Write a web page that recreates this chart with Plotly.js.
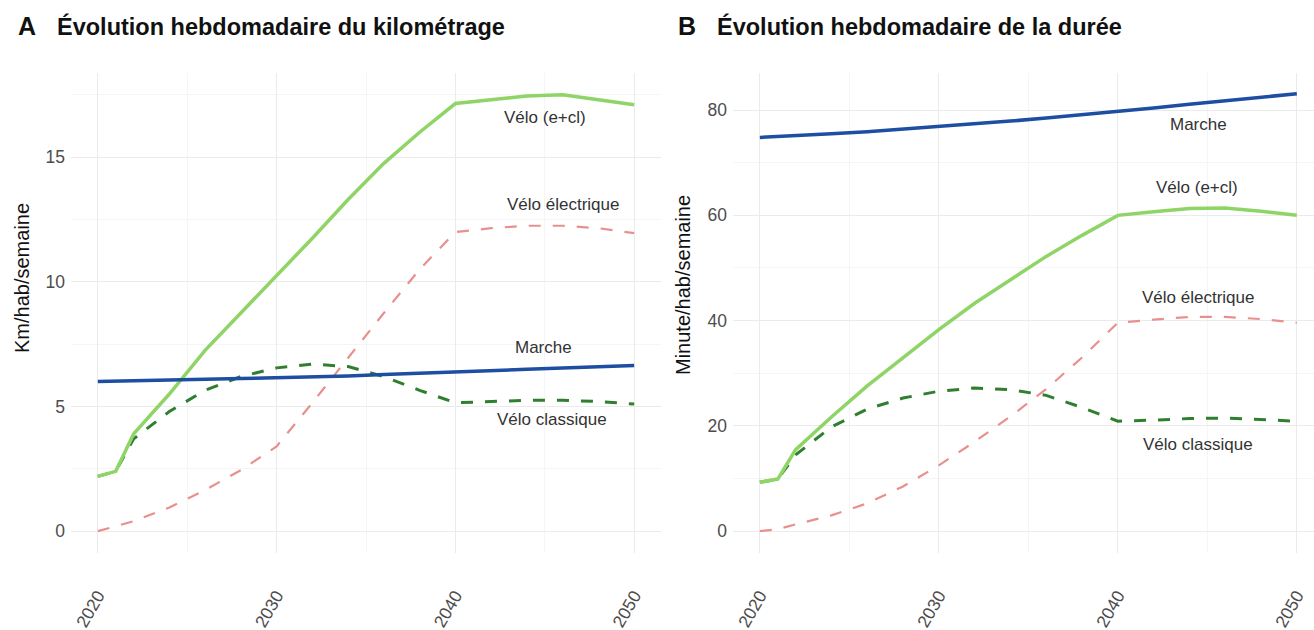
<!DOCTYPE html>
<html>
<head>
<meta charset="utf-8">
<script src="https://cdn.plot.ly/plotly-3.0.1.min.js"></script>
<style>
  html, body { margin: 0; padding: 0; background: #ffffff; }
  #chart { width: 1314px; height: 630px; }
</style>
</head>
<body>
<div id="chart"></div>
<script>
// ---- Data ----
const years = [2020, 2021, 2022, 2024, 2026, 2028, 2030, 2032, 2034, 2036, 2038, 2040, 2042, 2044, 2046, 2048, 2050];

// Panel A : km / hab / semaine
const kmMarche     = [6.00, 6.01, 6.03, 6.06, 6.09, 6.12, 6.15, 6.18, 6.22, 6.28, 6.34, 6.40, 6.44, 6.49, 6.54, 6.59, 6.64];
const kmVeloTotal  = [2.2, 2.4, 3.9, 5.5, 7.25, 8.75, 10.2, 11.75, 13.3, 14.75, 16.0, 17.15, 17.3, 17.45, 17.5, 17.3, 17.1];
const kmVeloElec   = [0.0, 0.2, 0.4, 0.95, 1.65, 2.45, 3.4, 5.15, 6.95, 8.75, 10.5, 12.0, 12.15, 12.25, 12.25, 12.15, 11.95];
const kmVeloClass  = [2.2, 2.4, 3.7, 4.8, 5.65, 6.2, 6.55, 6.7, 6.6, 6.2, 5.65, 5.15, 5.2, 5.25, 5.25, 5.2, 5.1];

// Panel B : minutes / hab / semaine
const minMarche    = [74.8, 74.95, 75.1, 75.5, 75.9, 76.4, 76.9, 77.3, 77.9, 78.5, 79.1, 79.7, 80.4, 81.1, 81.8, 82.5, 83.1];
const minVeloTotal = [9.3, 9.9, 15.5, 21.7, 27.6, 33.0, 38.3, 43.3, 47.8, 52.2, 56.2, 60.0, 60.7, 61.3, 61.4, 60.8, 60.0];
const minVeloElec  = [0.0, 0.4, 1.3, 3.0, 5.3, 8.5, 12.5, 17.0, 21.8, 27.0, 33.0, 39.6, 40.2, 40.7, 40.7, 40.3, 39.6];
const minVeloClass = [9.3, 9.9, 14.5, 19.8, 23.2, 25.3, 26.6, 27.2, 26.9, 25.8, 23.5, 20.9, 21.1, 21.4, 21.5, 21.2, 20.9];

// Series names and direct labels (same order as seriesNames)
const seriesNames = ["Marche", "Vélo (e+cl)", "Vélo électrique", "Vélo classique"];
const labelsA = { x: [2044.9, 2045, 2046, 2045.4], y: [7.36, 16.6, 13.1, 4.48] };
const labelsB = { x: [2044.5, 2044.4, 2044.5, 2044.5], y: [77.3, 65.2, 44.4, 16.5] };

const panelTitles = ["Évolution hebdomadaire du kilométrage", "Évolution hebdomadaire de la durée"];
const panelLetters = ["A", "B"];
const yTitles = ["Km/hab/semaine", "Minute/hab/semaine"];

// ---- Styles ----
const FONT = "Liberation Sans, Arial, Helvetica, sans-serif";
const styles = [
  { color: "#1d4ea2", width: 3.5, dash: "solid" },
  { color: "#8fd466", width: 3.5, dash: "solid" },
  { color: "#e8908e", width: 2.2, dash: "12px,12px" },
  { color: "#2f7f2f", width: 3.0, dash: "12px,12px" }
];

function mk(yvals, i, xa, ya) {
  return {
    x: years, y: yvals, type: "scatter", mode: "lines",
    name: seriesNames[i], xaxis: xa, yaxis: ya,
    line: { color: styles[i].color, width: styles[i].width, dash: styles[i].dash },
    hoverinfo: "x+y+name"
  };
}

const traces = [
  mk(kmVeloElec, 2, "x", "y"),
  mk(kmVeloClass, 3, "x", "y"),
  mk(kmVeloTotal, 1, "x", "y"),
  mk(kmMarche, 0, "x", "y"),
  mk(minVeloElec, 2, "x2", "y2"),
  mk(minVeloClass, 3, "x2", "y2"),
  mk(minVeloTotal, 1, "x2", "y2"),
  mk(minMarche, 0, "x2", "y2")
];

const W = 1314, H = 630;
const plotTop = 73, plotBottom = 553;
const yDom = [(H - plotBottom) / H, (H - plotTop) / H];

const tickFont = { family: FONT, size: 17.5, color: "#4d4d4d" };
const gridMajor = "#ebebeb", gridMinor = "#f5f5f5";

function xAxis(dom, range, anchor) {
  return {
    domain: dom, range: range, anchor: anchor,
    tick0: 2020, dtick: 10, tickangle: -60,
    showgrid: true, gridcolor: gridMajor, gridwidth: 1,
    minor: { dtick: 5, tick0: 2020, showgrid: true, gridcolor: gridMinor, gridwidth: 1 },
    zeroline: false, showline: false, ticks: "",
    tickfont: tickFont, ticklabelstandoff: 28, fixedrange: true
  };
}
function yAxis(dom, range, dtick, anchor) {
  return {
    domain: dom, range: range, anchor: anchor,
    tick0: 0, dtick: dtick,
    showgrid: true, gridcolor: gridMajor, gridwidth: 1,
    minor: { dtick: dtick / 2, tick0: 0, showgrid: true, gridcolor: gridMinor, gridwidth: 1 },
    zeroline: false, showline: false, ticks: "",
    tickfont: tickFont, ticklabelstandoff: 5, fixedrange: true
  };
}

const annotations = [];
// direct labels
seriesNames.forEach((n, i) => {
  annotations.push({ x: labelsA.x[i], y: labelsA.y[i], xref: "x", yref: "y", text: n, showarrow: false,
    font: { family: FONT, size: 17, color: "#333333" }, xanchor: "center", yanchor: "middle" });
  annotations.push({ x: labelsB.x[i], y: labelsB.y[i], xref: "x2", yref: "y2", text: n, showarrow: false,
    font: { family: FONT, size: 17, color: "#333333" }, xanchor: "center", yanchor: "middle" });
});
// panel letters and titles
const letterX = [16, 676], titleX = [55, 715];
[0, 1].forEach(k => {
  annotations.push({ x: letterX[k] / W, y: (H - 42) / H, xref: "paper", yref: "paper", text: "<b>" + panelLetters[k] + "</b>",
    showarrow: false, xanchor: "left", yanchor: "bottom", font: { family: FONT, size: 25, color: "#111111" } });
  annotations.push({ x: titleX[k] / W, y: (H - 42) / H, xref: "paper", yref: "paper", text: "<b>" + panelTitles[k] + "</b>",
    showarrow: false, xanchor: "left", yanchor: "bottom", font: { family: FONT, size: 23.5, color: "#111111" } });
});
// y axis titles
const yTitleX = [22, 683], yTitleY = [278, 285];
[0, 1].forEach(k => {
  annotations.push({ x: yTitleX[k] / W, y: (H - yTitleY[k]) / H, xref: "paper", yref: "paper", text: yTitles[k],
    showarrow: false, textangle: -90, xanchor: "center", yanchor: "middle",
    font: { family: FONT, size: 20, color: "#111111" } });
});

const layout = {
  width: W, height: H,
  margin: { l: 0, r: 0, t: 0, b: 0, pad: 0 },
  paper_bgcolor: "#ffffff", plot_bgcolor: "#ffffff",
  showlegend: false,
  xaxis: xAxis([71 / W, 661 / W], [2018.5, 2051.5], "y"),
  yaxis: yAxis(yDom, [-0.875, 18.375], 5, "x"),
  xaxis2: xAxis([733 / W, 1], [2018.5, 2050.96], "y2"),
  yaxis2: yAxis(yDom, [-4.14, 87.04], 20, "x2"),
  annotations: annotations
};

Plotly.newPlot("chart", traces, layout, { displayModeBar: false, staticPlot: true });
</script>
</body>
</html>
